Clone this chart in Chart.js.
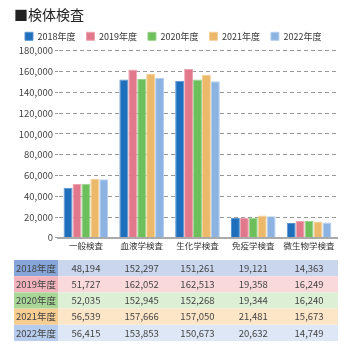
<!DOCTYPE html>
<html>
<head>
<meta charset="utf-8">
<script src="https://cdn.jsdelivr.net/npm/chart.js@4"></script>
<style>
  html, body { margin: 0; padding: 0; background: #fff; }
  #wrap { width: 360px; height: 360px; }
</style>
</head>
<body>
<div id="wrap"><canvas id="kentaiChart" width="360" height="360"></canvas></div>
<script>
const categories = ['一般検査', '血液学検査', '生化学検査', '免疫学検査', '微生物学検査'];
const years = ['2018年度', '2019年度', '2020年度', '2021年度', '2022年度'];
const values2018 = [48194, 152297, 151261, 19121, 14363];
const values2019 = [51727, 162052, 162513, 19358, 16249];
const values2020 = [52035, 152945, 152268, 19344, 16240];
const values2021 = [56539, 157666, 157050, 21481, 15673];
const values2022 = [56415, 153853, 150673, 20632, 14749];
const yTicks = [0, 20000, 40000, 60000, 80000, 100000, 120000, 140000, 160000, 180000];

const seriesValues = [values2018, values2019, values2020, values2021, values2022];
const barColors = ['#1f6fbd', '#e2788c', '#6cbf5b', '#ecb96a', '#8db3e2'];
const barEdges = ['#5b93cf', '#eea3b0', '#98d38b', '#f3d096', '#b5cdee'];
const labelBg = ['#86a5d9', '#f3b3bc', '#a8d797', '#f8cd92', '#b7cdee'];
const rowBg = ['#c9d6ee', '#f9d9dc', '#ddefd5', '#fde6c8', '#dee7f6'];

const fontJP = '"Noto Sans CJK JP", "Noto Sans", sans-serif';

// 下の表をチャートの下に描く
const tablePlugin = {
    id: 'dataTable',
    afterDraw(chart) {
        const ctx = chart.ctx;
        const xs = chart.scales.x;
        const left = 14;
        const mid = chart.chartArea.left;
        const right = chart.chartArea.right + 1;
        const top = 260;
        const rowH = 16.2;
        ctx.save();
        ctx.font = '9.5px ' + fontJP;
        ctx.textBaseline = 'middle';
        years.forEach((yr, r) => {
            const y = top + r * rowH;
            ctx.fillStyle = rowBg[r];
            ctx.fillRect(mid, y, right - mid, rowH);
            ctx.fillStyle = labelBg[r];
            ctx.fillRect(left, y, mid - left, rowH);
            ctx.fillStyle = '#444';
            ctx.textAlign = 'center';
            ctx.fillText(yr, (left + mid) / 2, y + rowH / 2);
            seriesValues[r].forEach((v, i) => {
                ctx.fillText(v.toLocaleString('en-US'), xs.getPixelForValue(i), y + rowH / 2);
            });
        });
        ctx.restore();
    }
};

const kentaiChart = new Chart(document.getElementById('kentaiChart'), {
    type: 'bar',
    data: {
        labels: categories,
        datasets: years.map((yr, i) => ({
            label: yr,
            data: seriesValues[i],
            backgroundColor: barColors[i],
            borderColor: barEdges[i],
            borderWidth: 1,
            barPercentage: 1.0,
            categoryPercentage: 0.8
        }))
    },
    options: {
        responsive: false,
        animation: false,
        layout: { padding: { left: 14, right: 23, top: 6, bottom: 106 } },
        plugins: {
            title: {
                display: true,
                text: '■検体検査',
                align: 'start',
                color: '#222',
                font: { family: fontJP, size: 14, weight: 'normal' },
                padding: { top: 0, bottom: -2 }
            },
            legend: {
                align: 'start',
                labels: {
                    boxWidth: 8,
                    boxHeight: 8,
                    color: '#333',
                    font: { family: fontJP, size: 9 },
                    padding: 11
                }
            },
            tooltip: { enabled: false }
        },
        scales: {
            x: {
                grid: { display: false, drawTicks: false },
                border: { color: '#aaa', width: 2 },
                ticks: {
                    color: '#333',
                    font: { family: fontJP, size: 8.5 },
                    padding: 3,
                    maxRotation: 0,
                    autoSkip: false
                }
            },
            y: {
                min: 0,
                max: 180000,
                afterBuildTicks(axis) {
                    axis.ticks = yTicks.map(v => ({ value: v }));
                },
                afterFit(axis) {
                    axis.width = 44;
                },
                grid: { color: '#999', lineWidth: 1, tickLength: 3, drawTicks: true },
                border: { display: true, color: 'rgba(0,0,0,0)', dash: [4, 3] },
                ticks: {
                    color: '#444',
                    font: { family: fontJP, size: 9.5 },
                    padding: 2,
                    callback: v => v.toLocaleString('en-US')
                }
            }
        }
    },
    plugins: [tablePlugin]
});
</script>
</body>
</html>
